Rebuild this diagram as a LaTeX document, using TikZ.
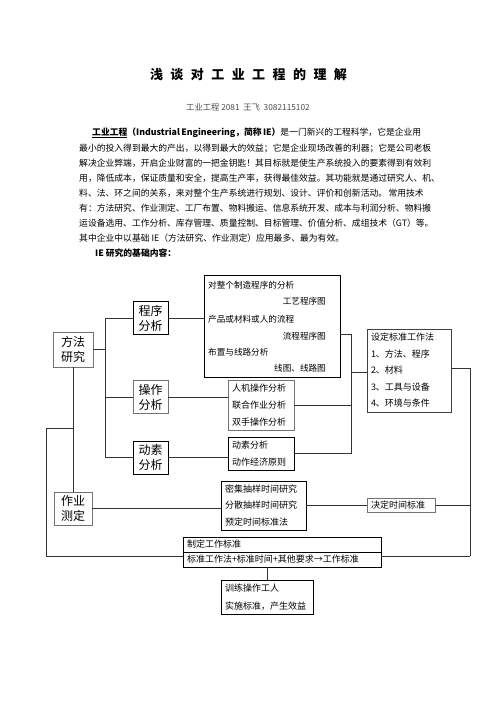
\documentclass[tikz,border=0pt]{standalone}
\usepackage{fontspec}
\setmainfont{Noto Sans CJK SC}
\XeTeXlinebreaklocale "zh"
\XeTeXlinebreakskip=0pt plus 3pt minus 1pt

\begin{document}
\begin{tikzpicture}[x=1pt,y=-1pt,
    darkbox/.style={draw=black,line width=0.7pt,inner xsep=4pt,inner ysep=0pt,align=left},
    greybox/.style={darkbox,draw=black!55},
    big/.style={align=center,font=\fontsize{12}{15}\selectfont,minimum width=35pt,minimum height=33pt},
    link/.style={black!80,line width=0.7pt},
    txt/.style={anchor=west,inner sep=0pt,font=\fontsize{8.8}{15}\selectfont}]
        \fill[white] (0,0) rectangle (496,702);
        \useasboundingbox (0,0) rectangle (496,702);
        % heading
        \node[inner sep=0pt,font=\fontsize{13}{15}\selectfont\bfseries] (title) at (248.5,75) {\makebox[197pt][s]{浅 谈 对 工 业 工 程 的 理 解}};
        \node[inner sep=0pt,text=black!70,font=\fontsize{8.3}{10}\selectfont] (sub) at (248,107) {工业工程 2081\ \ 王飞\ \ 3082115102};
        % text
        \node[txt] (p1) at (92,133) {\makebox[329pt][s]{\textbf{\underline{工业工程}（Industrial Engineering，简称 IE）}是一门新兴的工程科学，它是企业用}};
        \foreach \t [count=\i from 2] in {最小的投入得到最大的产出，以得到最大的效益；它是企业现场改善的利器；它是公司老板,
            解决企业弊端，开启企业财富的一把金钥匙！其目标就是使生产系统投入的要素得到有效利,
            用，降低成本，保证质量和安全，提高生产率，获得最佳效益。其功能就是通过研究人、机、,
            料、法、环之间的关系，来对整个生产系统进行规划、设计、评价和创新活动。 常用技术,
            有：方法研究、作业测定、工厂布置、物料搬运、信息系统开发、成本与利润分析、物料搬,
            运设备选用、工作分析、库存管理、质量控制、目标管理、价值分析、成组技术（GT）等。}
            \node[txt] (p\i) at (79,118+15*\i) {\makebox[342pt][s]{\t}};
        \node[txt] (p8) at (79,238) {其中企业中以基础 IE（方法研究、作业测定）应用最多、最为有效。};
        \node[txt,font=\fontsize{8.8}{15}\selectfont\bfseries] (ie) at (95,253) {IE 研究的基础内容：};
        % boxes
        \node[greybox,big,minimum width=40pt,minimum height=35pt] (fangfa) at (73,349.5) {方法\\研究};
        \node[darkbox,big] (chengxu) at (150.5,318) {程序\\分析};
        \node[greybox,big] (caozuo) at (150.5,397) {操作\\分析};
        \node[darkbox,big] (dongsu) at (150.5,457.5) {动素\\分析};
        \node[greybox,big,minimum width=38pt] (zuoye) at (73,508.5) {作业\\测定};
        \node[darkbox,minimum width=136pt,minimum height=102pt] (bigbox) at (272,326) {};
        \foreach \t/\y [count=\i] in {对整个制造程序的分析/285,产品或材料或人的流程/319,布置与线路分析/352}
            \node[txt,font=\fontsize{8.6}{10}\selectfont] (bl\i) at (208,\y) {\t};
        \foreach \t/\y [count=\i] in {工艺程序图/301,流程程序图/336,线图、线路图/368}
            \node[txt,anchor=east,font=\fontsize{8.6}{10}\selectfont] (br\i) at (326,\y) {\t};
        \node[greybox,text width=58pt,minimum height=50pt,font=\fontsize{9}{17}\selectfont] (caozuob) at (261,405) {人机操作分析\\联合作业分析\\双手操作分析};
        \node[darkbox,text width=58pt,minimum height=33pt,font=\fontsize{9}{17}\selectfont] (dongsub) at (261,453.5) {动素分析\\动作经济原则};
        \node[darkbox,draw=black!75,text width=76pt,minimum height=83pt,font=\fontsize{9}{16.5}\selectfont] (sheding) at (409,370.5) {设定标准工作法\\1、方法、程序\\2、材料\\3、工具与设备\\4、环境与条件};
        \node[darkbox,text width=77pt,minimum height=49pt,font=\fontsize{9}{16.5}\selectfont] (shijian) at (263.5,505.5) {密集抽样时间研究\\分散抽样时间研究\\预定时间标准法};
        \node[greybox,text width=60pt,minimum height=14pt,font=\fontsize{9}{11}\selectfont] (jueding) at (401,505) {决定时间标准};
        \node[darkbox,text width=190pt,minimum height=30pt,font=\fontsize{9}{15}\selectfont] (zhiding) at (282,552) {制定工作标准\\标准工作法+标准时间+其他要求→工作标准};
        \draw[line width=0.7pt] (zhiding.west) -- (zhiding.east);
        \node[darkbox,text width=84pt,minimum height=34pt,font=\fontsize{9}{18}\selectfont] (xunlian) at (267,597) {训练操作工人\\实施标准，产生效益};
        % connectors
        \coordinate (trunk) at (105,349.5);
        \coordinate (rbus) at (351,372);
        \coordinate (rbus2) at (470,556);
        \coordinate (lbend) at (73,428);
        \coordinate (lcorner) at (46,556);
        \draw[link] (fangfa) -- (trunk);
        \draw[link] (chengxu.west) -| (trunk);
        \draw[link] (dongsu.west) -| (trunk);
        \draw[link] (caozuo.west) -- (caozuo.west -| trunk);
        \draw[link] (chengxu.east) -- (chengxu.east -| bigbox.west);
        \draw[link] (caozuo.east) -- (caozuo.east -| caozuob.west);
        \draw[link] (dongsu.east) -- (dongsu.east -| dongsub.west);
        \draw[link] ([yshift=-8pt]bigbox.east) -| (rbus);
        \draw[link] (caozuob.east) -- (caozuob.east -| rbus);
        \draw[link] (dongsub.east) -| (rbus);
        \draw[link] (rbus) -- (rbus -| sheding.west);
        \draw[link] ([yshift=2pt]sheding.east) -| (rbus2);
        \draw[link] (jueding.east) -- (jueding.east -| rbus2);
        \draw[link] (rbus2) -- (rbus2 -| zhiding.east);
        \draw[link] (fangfa.south) -- (zuoye.north);
        \draw[link] (lbend) -| (lcorner) -- (lcorner -| zhiding.west);
        \draw[link] (zuoye.east) -- (zuoye.east -| shijian.west);
        \draw[link] (shijian.east) -- (shijian.east -| jueding.west);
        \draw[link] (xunlian.north) -- (xunlian.north |- zhiding.south);
\end{tikzpicture}
\end{document}
